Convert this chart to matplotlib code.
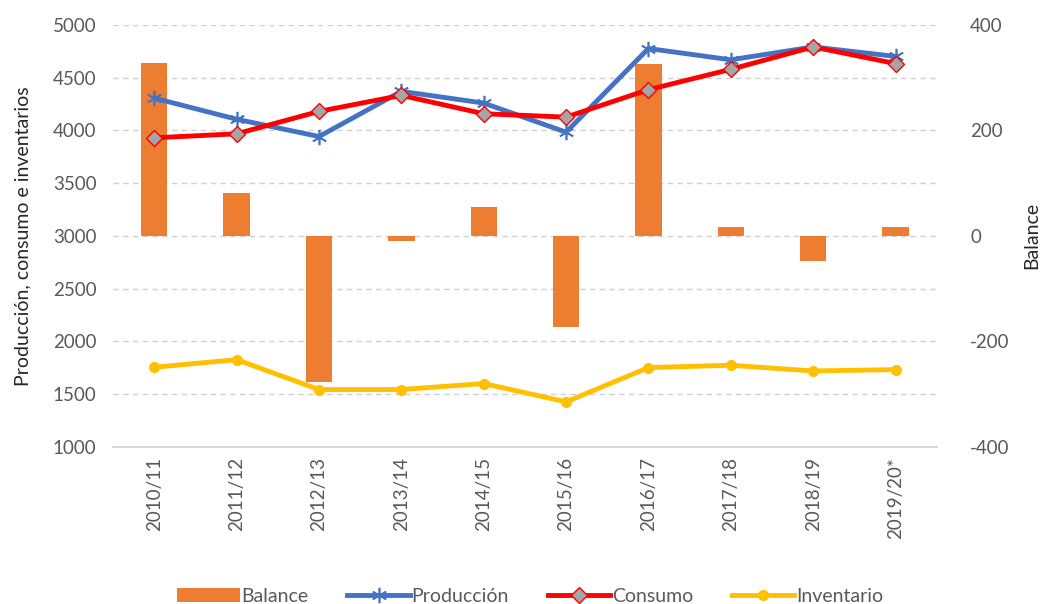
import matplotlib.pyplot as plt
from matplotlib.ticker import FuncFormatter

plt.rcParams['font.family'] = ['Lato', 'DejaVu Sans']

# datos
campanas = ["2010/11", "2011/12", "2012/13", "2013/14", "2014/15",
            "2015/16", "2016/17", "2017/18", "2018/19", "2019/20*"]
balance = [328, 81, -276, -10, 54, -173, 325, 16, -48, 16]
produccion = [4305, 4105, 3941, 4369, 4258, 3982, 4775, 4668, 4790, 4700]
consumo = [3929, 3967, 4179, 4331, 4157, 4125, 4385, 4578, 4790, 4632]
inventario = [1755, 1827, 1544, 1544, 1601, 1427, 1752, 1774, 1720, 1733]

TXT = '#595959'
fig = plt.figure(figsize=(10.4, 6.04), dpi=100)
ax2 = fig.add_axes([0.1087, 0.260, 0.792, 0.699])
ax1 = ax2.twinx()
# ax1 lleva la escala izquierda; la pasamos al lado izquierdo
ax1.yaxis.tick_left()
ax1.yaxis.set_label_position('left')
ax2.yaxis.tick_right()
ax2.yaxis.set_label_position('right')
ax1.set_zorder(ax2.get_zorder() + 1)
ax1.patch.set_visible(False)

x = list(range(len(campanas)))
ax2.bar(x, balance, width=0.32, color='#ED7D31', label='Balance', zorder=3)
ax2.set_ylim(-400, 400)
ax2.set_yticks(range(-400, 401, 100))
ax2.yaxis.set_major_formatter(FuncFormatter(lambda v, p: f"{int(v)}" if int(v) % 200 == 0 else ""))
ax2.grid(axis='y', color='#D0D0D0', linestyle=(0, (4, 3)), linewidth=1, zorder=0)
ax2.set_axisbelow(True)

ax1.plot(x, produccion, color='#4472C4', lw=3.5, marker=(6, 2, 0), ms=11,
         mec='#4472C4', mew=1.2, label='Producción')
ax1.plot(x, consumo, color='#FF0000', lw=3.5, marker='D', ms=8,
         mfc='#A5A5A5', mec='#FF0000', mew=1, label='Consumo')
ax1.plot(x, inventario, color='#FFC000', lw=3.5, marker='o', ms=7,
         mfc='#FFC000', mec='#FFC000', label='Inventario')
ax1.set_ylim(1000, 5000)
ax1.set_yticks(range(1000, 5001, 500))

ax2.set_xlim(-0.5, len(campanas) - 0.5)
ax2.set_xticks(x)
ax2.set_xticklabels(campanas, rotation=90)

for ax in (ax1, ax2):
    for s in ax.spines.values():
        s.set_visible(False)
    ax.tick_params(length=0, labelsize=13.5, colors=TXT)
ax2.spines['bottom'].set_visible(True)
ax2.spines['bottom'].set_color('#D0D0D0')
ax2.spines['bottom'].set_linewidth(1.2)
ax2.tick_params(axis='x', pad=7)
ax2.tick_params(axis='y', pad=24)
ax1.tick_params(axis='y', pad=12)

ax1.set_ylabel('Producción, consumo e inventarios', fontsize=14, color='#262626', labelpad=15)
ax2.set_ylabel('Balance', fontsize=14, color='#262626', labelpad=10)

h2, l2 = ax2.get_legend_handles_labels()
h1, l1 = ax1.get_legend_handles_labels()
fig.legend(h2 + h1, l2 + l1, loc='lower center', bbox_to_anchor=(0.51, -0.03),
           ncol=4, frameon=False, fontsize=14, handlelength=3.2,
           columnspacing=2.0, handletextpad=0.1, labelcolor=TXT)

fig.savefig('out.png', dpi=100)
